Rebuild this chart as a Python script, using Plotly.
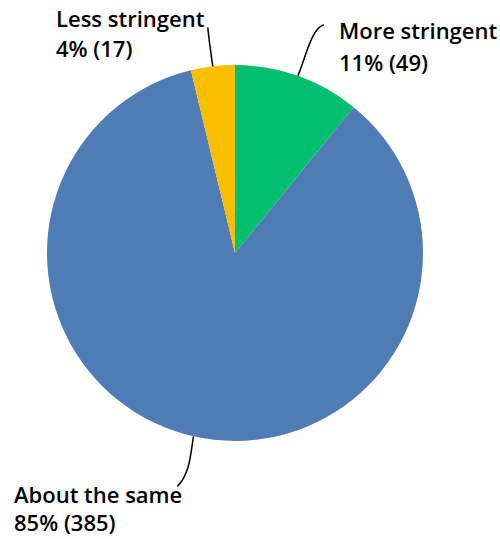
import math
import plotly.graph_objects as go

# Survey responses
labels = ["More stringent", "About the same", "Less stringent"]
counts = [49, 385, 17]
colors = ["#00BF6F", "#507CB6", "#F9BE00"]

W, H = 500, 539
# pie placement in pixels
CX, CY, R = 235, 253, 188

dom_x = [(CX - R) / W, (CX + R) / W]
dom_y = [1 - (CY + R) / H, 1 - (CY - R) / H]

fig = go.Figure(go.Pie(
    labels=labels,
    values=counts,
    marker=dict(colors=colors, line=dict(width=0)),
    sort=False,
    direction="clockwise",
    rotation=0,
    textinfo="none",
    hoverinfo="label+value+percent",
    showlegend=False,
    domain=dict(x=dom_x, y=dom_y),
))

total = sum(counts)


def px(x, y):
    return x / W, 1 - y / H


def edge_point(i):
    """Point on the rim at the middle angle of slice i (clockwise from 12 o'clock)."""
    start = sum(counts[:i]) / total * 360
    mid = start + counts[i] / total * 360 / 2
    a = math.radians(mid)
    return CX + R * math.sin(a), CY - R * math.cos(a)


# leader-line bends (pixel offsets from rim point) and label line centres
leaders = {
    0: dict(c1=(8, -20), c2=(14, -48), end=(26, -51), left=338, rows=(30, 62)),
    1: dict(c1=(-3, 20), c2=(-4, 38), end=(-16, 50), left=13, rows=(494, 522)),
    2: dict(c1=(-2, -14), c2=(-4, -28), end=(-5, -39), left=55, rows=(18, 48)),
}

label_font = dict(family="Open Sans", size=22, color="#000000", weight=600)

shapes = []
annotations = []
for i, spec in leaders.items():
    x0, y0 = edge_point(i)
    c1 = (x0 + spec["c1"][0], y0 + spec["c1"][1])
    c2 = (x0 + spec["c2"][0], y0 + spec["c2"][1])
    e = (x0 + spec["end"][0], y0 + spec["end"][1])
    pts = [px(*p) for p in [(x0, y0), c1, c2, e]]
    path = "M {} {} C {} {}, {} {}, {} {}".format(*[v for p in pts for v in p])
    shapes.append(dict(type="path", path=path, xref="paper", yref="paper",
                       line=dict(color="#000000", width=1.5)))
    pct = round(counts[i] / total * 100)
    lines = [labels[i], f"{pct}% ({counts[i]})"]
    for text, row in zip(lines, spec["rows"]):
        tx, ty = px(spec["left"], row)
        annotations.append(dict(
            x=tx, y=ty, xref="paper", yref="paper",
            xanchor="left", yanchor="middle", align="left", showarrow=False,
            text=text, font=label_font, borderpad=0,
        ))

fig.update_layout(
    width=W, height=H,
    margin=dict(l=0, r=0, t=0, b=0),
    paper_bgcolor="#FFFFFF",
    plot_bgcolor="#FFFFFF",
    shapes=shapes,
    annotations=annotations,
)

fig.write_html("out.html")
